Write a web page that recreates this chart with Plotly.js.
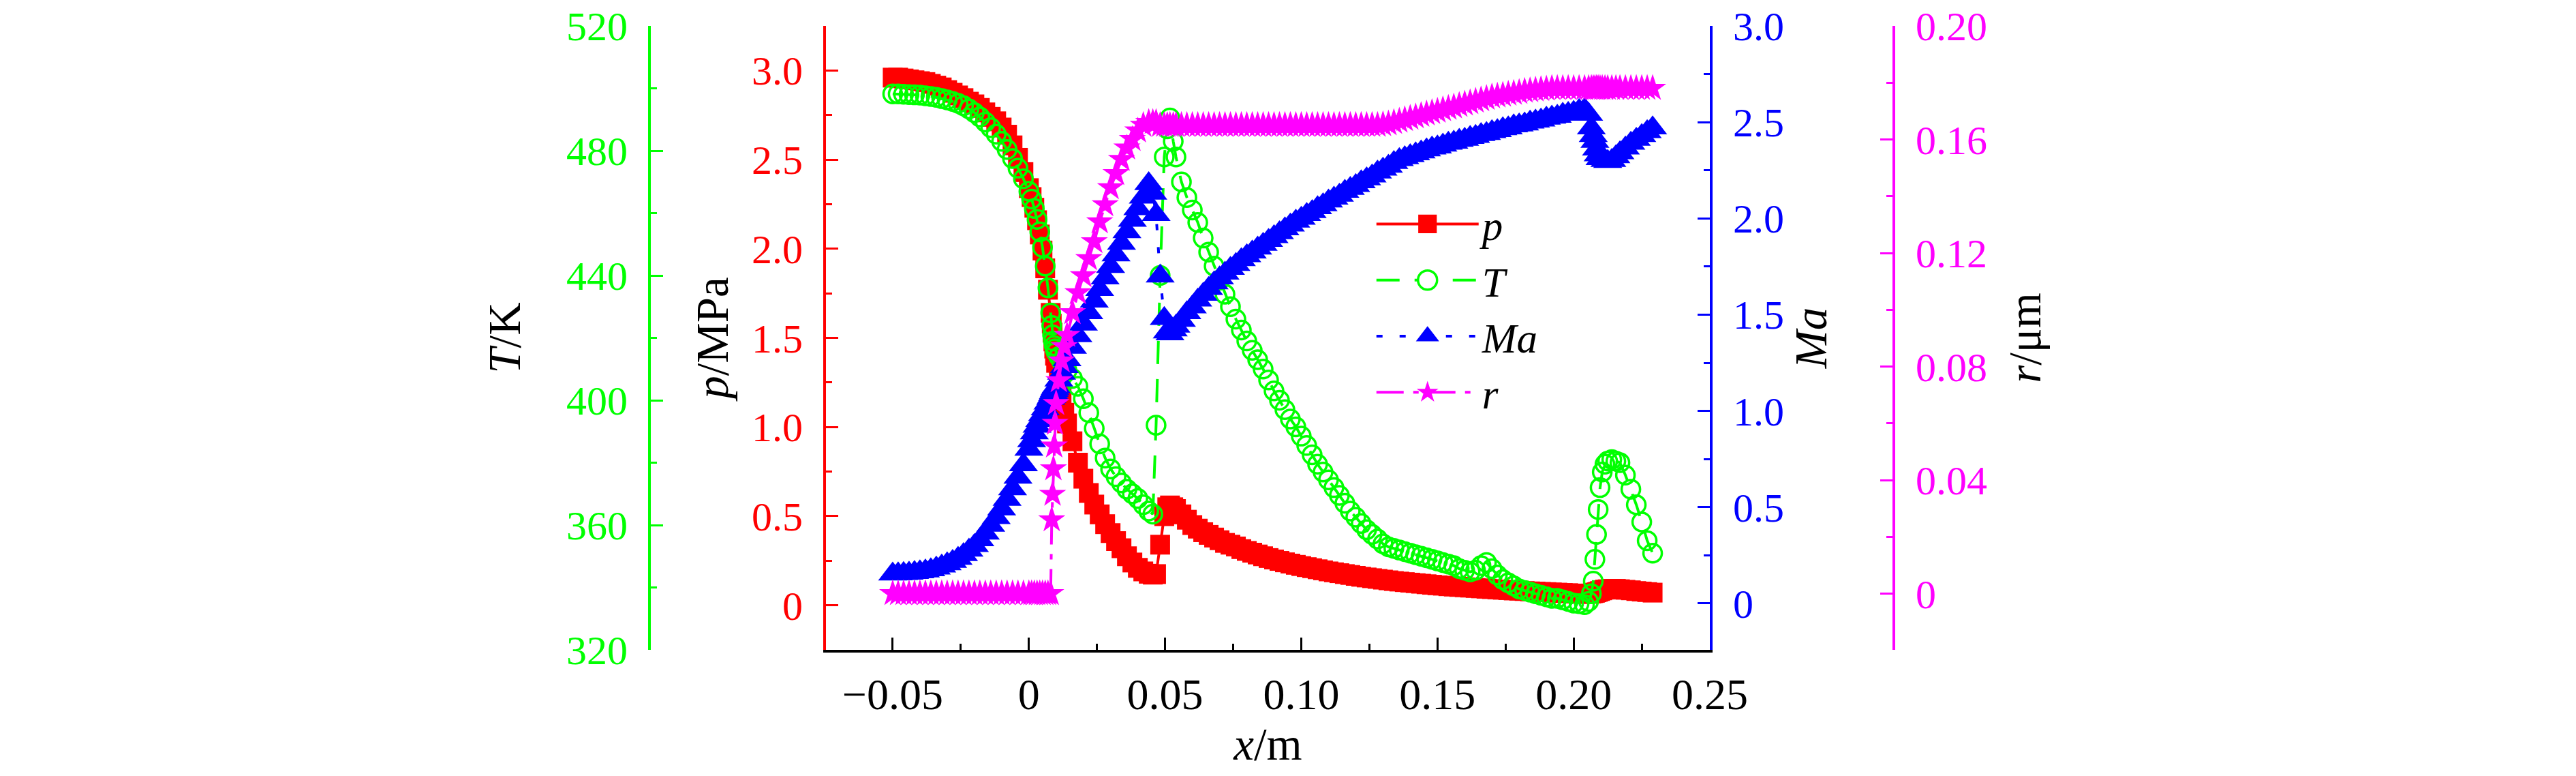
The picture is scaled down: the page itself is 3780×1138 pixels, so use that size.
<!DOCTYPE html>
<html>
<head>
<meta charset="utf-8">
<script src="https://cdn.plot.ly/plotly-3.0.1.min.js"></script>
<style>
  html, body { margin: 0; padding: 0; background: #fff; }
  #chart { width: 3780px; height: 1138px; }
</style>
</head>
<body>
<div id="chart"></div>
<script>
// axial position along the nozzle, m (refined where the curves jump)
const xPos = [
  -0.05, -0.048, -0.046, -0.044, -0.042, -0.04, -0.038, -0.036, -0.034, -0.032,
  -0.03, -0.028, -0.026, -0.024, -0.022, -0.02, -0.018, -0.016, -0.014, -0.012,
  -0.01, -0.008, -0.006, -0.004, -0.002, 0,
  0.001, 0.002, 0.003, 0.004, 0.005, 0.006, 0.007, 0.008,
  0.0084, 0.0087, 0.009, 0.0093, 0.0096, 0.01, 0.011, 0.012, 0.013, 0.014,
  0.016, 0.018, 0.02, 0.022, 0.024, 0.026, 0.028, 0.03, 0.032, 0.034,
  0.036, 0.038, 0.04, 0.042, 0.044,
  0.0455, 0.0467, 0.0482, 0.0497, 0.0508, 0.0518, 0.053,
  0.054, 0.056, 0.058, 0.06, 0.062, 0.064, 0.066, 0.068, 0.07, 0.072,
  0.074, 0.076, 0.078, 0.08, 0.082, 0.084, 0.086, 0.088, 0.09, 0.092,
  0.094, 0.096, 0.098, 0.1, 0.102, 0.104, 0.106, 0.108, 0.11, 0.112,
  0.114, 0.116, 0.118, 0.12, 0.122, 0.124, 0.126, 0.128, 0.13, 0.132,
  0.134, 0.136, 0.138, 0.14, 0.142, 0.144, 0.146, 0.148, 0.15, 0.152,
  0.154, 0.156, 0.158, 0.16, 0.162, 0.164, 0.166, 0.168, 0.17, 0.172,
  0.174, 0.176, 0.178, 0.18, 0.182, 0.184, 0.186, 0.188, 0.19, 0.192,
  0.194, 0.196, 0.198, 0.2,
  0.202, 0.204, 0.2055, 0.2065, 0.2072, 0.2078, 0.2084, 0.209, 0.2097, 0.2105,
  0.2115, 0.2125, 0.214, 0.2155, 0.217, 0.219, 0.221, 0.223, 0.225, 0.227, 0.229
];

// pressure, MPa
const pressure = [
  2.96, 2.96, 2.955, 2.95, 2.945, 2.94, 2.935, 2.925, 2.915, 2.905,
  2.89, 2.875, 2.86, 2.845, 2.825, 2.81, 2.79, 2.765, 2.74, 2.715,
  2.68, 2.64, 2.58, 2.51, 2.43, 2.34,
  2.29, 2.23, 2.16, 2.08, 1.99, 1.89, 1.77, 1.64,
  1.58, 1.53, 1.48, 1.44, 1.40, 1.36, 1.26, 1.16, 1.08, 1.02,
  0.92, 0.80, 0.71, 0.63, 0.565, 0.51, 0.455, 0.405, 0.36, 0.32,
  0.275, 0.24, 0.21, 0.19, 0.177,
  0.172, 0.175, 0.34, 0.50, 0.55, 0.56, 0.55,
  0.54, 0.51, 0.48, 0.45, 0.43, 0.41, 0.395, 0.38, 0.365, 0.35,
  0.34, 0.33, 0.315, 0.305, 0.295, 0.285, 0.275, 0.265, 0.257, 0.249,
  0.241, 0.234, 0.227, 0.22, 0.214, 0.208, 0.202, 0.196, 0.19, 0.185,
  0.18, 0.175, 0.17, 0.165, 0.16, 0.156, 0.152, 0.148, 0.144, 0.14,
  0.136, 0.133, 0.13, 0.127, 0.124, 0.121, 0.118, 0.115, 0.112, 0.11,
  0.107, 0.105, 0.103, 0.101, 0.099, 0.097, 0.095, 0.093, 0.091, 0.089,
  0.087, 0.085, 0.083, 0.082, 0.08, 0.078, 0.077, 0.075, 0.074, 0.072,
  0.071, 0.069, 0.068, 0.066,
  0.065, 0.064, 0.064, 0.066, 0.068, 0.07, 0.073, 0.076, 0.08, 0.084,
  0.088, 0.09, 0.092, 0.092, 0.09, 0.087, 0.084, 0.08, 0.077, 0.074, 0.071
];

// temperature, K
const temperature = [
  498.2, 498.2, 498.1, 498, 497.9, 497.8, 497.6, 497.4, 497.1, 496.7,
  496.3, 495.8, 495.2, 494.4, 493.4, 492.2, 490.8, 489.2, 487.4, 485.3,
  483, 480.4, 477.5, 474.4, 471, 467,
  464.5, 461.5, 458, 454, 449, 443, 436, 428,
  424, 421, 419, 417.5, 416.5, 415.5, 414, 412.5, 411, 409.5,
  407, 404.5, 400.5, 396, 391, 386, 381.5, 378, 375.5, 373.5,
  371.5, 370, 368.5, 366.5, 364.5,
  363.5, 392, 440, 478, 487, 490.5, 483,
  478, 470, 465, 461, 457, 452, 447.5, 443, 438.5, 434,
  430, 426, 422.5, 419, 416, 413, 410, 406.5, 403, 400,
  397, 394, 391.5, 388.5, 385.5, 382.5, 379.5, 377, 374.5, 372,
  369.5, 367, 364.5, 362.5, 360.5, 358.5, 357, 355.5, 354, 353,
  352.5, 352, 351.5, 351, 350.5, 350, 349.5, 349, 348.5, 348,
  347.5, 347, 346, 345.5, 345, 345.5, 347, 348, 346, 344,
  342.5, 341.5, 340.5, 339.5, 339, 338.5, 338, 337.5, 337, 336.5,
  336.5, 336, 335.5, 335,
  334.8, 334.5, 335.5, 338, 342, 349, 357, 365, 372, 377,
  379.5, 380.5, 381, 380.5, 380, 376, 371.5, 366.5, 361, 355, 351
];

// Mach number
const mach = [
  0.152, 0.153, 0.155, 0.157, 0.16, 0.164, 0.168, 0.174, 0.183, 0.194,
  0.205, 0.218, 0.234, 0.253, 0.276, 0.30, 0.33, 0.365, 0.405, 0.445,
  0.49, 0.54, 0.595, 0.655, 0.72, 0.80,
  0.845, 0.885, 0.92, 0.95, 0.98, 1.01, 1.04, 1.065,
  1.075, 1.085, 1.095, 1.105, 1.115, 1.125, 1.16, 1.195, 1.23, 1.265,
  1.33, 1.39, 1.45, 1.51, 1.57, 1.63, 1.69, 1.75, 1.81, 1.87,
  1.93, 1.99, 2.05, 2.11, 2.18,
  2.13, 2.02, 1.70, 1.48, 1.41, 1.40, 1.42,
  1.44, 1.47, 1.51, 1.54, 1.575, 1.605, 1.635, 1.665, 1.69, 1.715,
  1.74, 1.76, 1.785, 1.805, 1.825, 1.845, 1.865, 1.885, 1.905, 1.925,
  1.945, 1.965, 1.985, 2.0, 2.02, 2.035, 2.055, 2.07, 2.09, 2.105,
  2.12, 2.14, 2.155, 2.17, 2.19, 2.205, 2.22, 2.24, 2.255, 2.27,
  2.29, 2.305, 2.315, 2.325, 2.335, 2.345, 2.355, 2.365, 2.37, 2.38,
  2.39, 2.395, 2.405, 2.41, 2.42, 2.425, 2.435, 2.44, 2.45, 2.455,
  2.465, 2.47, 2.48, 2.485, 2.49, 2.5, 2.505, 2.51, 2.52, 2.525,
  2.53, 2.54, 2.545, 2.55,
  2.56, 2.565, 2.54, 2.47, 2.43, 2.40, 2.36, 2.33, 2.31, 2.31,
  2.30, 2.295, 2.30, 2.32, 2.34, 2.365, 2.39, 2.41, 2.43, 2.45, 2.47
];

// droplet radius, um
const radius = [
  0, 0, 0, 0, 0, 0, 0, 0, 0, 0,
  0, 0, 0, 0, 0, 0, 0, 0, 0, 0,
  0, 0, 0, 0, 0, 0,
  0, 0, 0, 0, 0, 0, 0, 0,
  0.026, 0.035, 0.044, 0.052, 0.06, 0.067, 0.075, 0.082, 0.087, 0.091,
  0.099, 0.106, 0.112, 0.118, 0.124, 0.131, 0.137, 0.143, 0.148, 0.153,
  0.157, 0.16, 0.163, 0.165, 0.166,
  0.166, 0.166, 0.165, 0.165, 0.165, 0.165, 0.165,
  0.165, 0.165, 0.165, 0.165, 0.165, 0.165, 0.165, 0.165, 0.165, 0.165,
  0.165, 0.165, 0.165, 0.165, 0.165, 0.165, 0.165, 0.165, 0.165, 0.165,
  0.165, 0.165, 0.165, 0.165, 0.165, 0.165, 0.165, 0.165, 0.165, 0.165,
  0.165, 0.165, 0.165, 0.165, 0.165, 0.165, 0.165, 0.165, 0.1652, 0.1655,
  0.166, 0.1665, 0.167, 0.1675, 0.168, 0.1685, 0.169, 0.1695, 0.17, 0.1705,
  0.171, 0.1715, 0.172, 0.1725, 0.173, 0.1735, 0.174, 0.1745, 0.175, 0.1753,
  0.1756, 0.176, 0.1763, 0.1766, 0.177, 0.1772, 0.1774, 0.1776, 0.1778, 0.178,
  0.178, 0.178, 0.178, 0.178,
  0.178, 0.178, 0.178, 0.178, 0.178, 0.178, 0.178, 0.178, 0.178, 0.178,
  0.178, 0.178, 0.178, 0.178, 0.178, 0.178, 0.178, 0.178, 0.178, 0.178, 0.178
];

// tick labels
const xTickVals = [-0.05, 0, 0.05, 0.1, 0.15, 0.2, 0.25];
const xTickText = ["\u22120.05", "0", "0.05", "0.10", "0.15", "0.20", "0.25"];
const pTickVals = [0, 0.5, 1, 1.5, 2, 2.5, 3];
const pTickText = ["0", "0.5", "1.0", "1.5", "2.0", "2.5", "3.0"];
const tTickVals = [320, 360, 400, 440, 480, 520];
const tTickText = ["320", "360", "400", "440", "480", "520"];
const maTickVals = [0, 0.5, 1, 1.5, 2, 2.5, 3];
const maTickText = ["0", "0.5", "1.0", "1.5", "2.0", "2.5", "3.0"];
const rTickVals = [0, 0.04, 0.08, 0.12, 0.16, 0.2];
const rTickText = ["0", "0.04", "0.08", "0.12", "0.16", "0.20"];

[pressure, temperature, mach, radius].forEach((arr, i) => {
  if (arr.length !== xPos.length) console.error("series " + i + " length " + arr.length + " != " + xPos.length);
});

const RED = "#ff0000";
const GREEN = "#00ff00";
const BLUE = "#0000ff";
const PINK = "#ff00ff";
const SERIF = "Liberation Serif, Times New Roman, serif";

const traces = [
  {
    name: "<i>p</i>", x: xPos, y: pressure, yaxis: "y",
    mode: "lines+markers",
    line: { color: RED, width: 4 },
    marker: { symbol: "square", size: 29, color: RED, line: { width: 0 } },
  },
  {
    name: "<i>T</i>", x: xPos, y: temperature, yaxis: "y2",
    mode: "lines+markers",
    line: { color: GREEN, width: 4, dash: "34px,22px" },
    marker: { symbol: "circle-open", size: 27, color: GREEN, line: { width: 3.5, color: GREEN } },
  },
  {
    name: "<i>Ma</i>", x: xPos, y: mach, yaxis: "y3",
    mode: "lines+markers",
    line: { color: BLUE, width: 4, dash: "9px,25px" },
    marker: { symbol: "triangle-up", size: 37, color: BLUE, line: { width: 0 } },
  },
  {
    name: "<i>r</i>", x: xPos, y: radius, yaxis: "y4",
    mode: "lines+markers",
    line: { color: PINK, width: 4, dash: "40px,14px,8px,14px" },
    marker: { symbol: "star", size: 30, color: PINK, line: { width: 0 } },
  },
];

function yAxisStyle(color, vals, text, range, minorStep) {
  return {
    range: range,
    tickmode: "array", tickvals: vals, ticktext: text,
    ticks: "inside", ticklen: 18, tickwidth: 3, tickcolor: color,
    minor: { ticks: "inside", dtick: minorStep, tick0: 0, ticklen: 9, tickwidth: 3, tickcolor: color },
    showline: true, linecolor: color, linewidth: 4,
    showgrid: false, zeroline: false,
    tickfont: { family: SERIF, size: 60, color: color },
    ticklabelstandoff: 18,
  };
}

const layout = {
  width: 3780, height: 1138,
  margin: { l: 0, r: 0, t: 38, b: 185 },
  paper_bgcolor: "#fff", plot_bgcolor: "#fff",
  showlegend: true,
  legend: {
    x: 0.533, y: 0.733, xanchor: "left", yanchor: "top",
    font: { family: SERIF, size: 61, color: "#000" },
    bgcolor: "rgba(0,0,0,0)", borderwidth: 0,
    itemwidth: 150,
  },
  xaxis: {
    domain: [1212 / 3780, 2509 / 3780],
    range: [-0.0745, 0.25],
    tickmode: "array", tickvals: xTickVals, ticktext: xTickText,
    ticks: "inside", ticklen: 18, tickwidth: 3, tickcolor: "#000",
    minor: { ticks: "inside", dtick: 0.025, tick0: 0, ticklen: 9, tickwidth: 3, tickcolor: "#000" },
    showline: true, linecolor: "#000", linewidth: 4,
    showgrid: false, zeroline: false,
    tickfont: { family: SERIF, size: 64, color: "#000" },
    ticklabelstandoff: 6,
    title: { text: "<i>x</i>/m", font: { family: SERIF, size: 67, color: "#000" }, standoff: 15 },
  },
  yaxis: Object.assign(yAxisStyle(RED, pTickVals, pTickText, [-0.25, 3.25], 0.25), {
    anchor: "x", side: "left",
    title: { text: "<i>p</i>/MPa", font: { family: SERIF, size: 67, color: "#000" }, standoff: 14 },
  }),
  yaxis2: Object.assign(yAxisStyle(GREEN, tTickVals, tTickText, [320, 520], 20), {
    overlaying: "y", anchor: "free", position: 953 / 3780, side: "left",
    title: { text: "<i>T</i>/K", font: { family: SERIF, size: 67, color: "#000" }, standoff: 45 },
  }),
  yaxis3: Object.assign(yAxisStyle(BLUE, maTickVals, maTickText, [-0.241, 3.0], 0.25), {
    overlaying: "y", anchor: "x", side: "right",
    title: { text: "<i>Ma</i>", font: { family: SERIF, size: 67, color: "#000" }, standoff: 17 },
  }),
  yaxis4: Object.assign(yAxisStyle(PINK, rTickVals, rTickText, [-0.0198, 0.2], 0.02), {
    overlaying: "y", anchor: "free", position: 2779 / 3780, side: "right",
    title: { text: "<i>r</i>/\u03bcm", font: { family: SERIF, size: 67, color: "#000" }, standoff: 31 },
  }),
};

// legend symbols are capped at 16px by plotly, so grow them to match the plot markers
function enlargeLegendSymbols(gd) {
  const scales = [1.7, 1.75, 1.85, 1.5];
  gd.querySelectorAll(".legend .traces").forEach((item, i) => {
    item.querySelectorAll(".legendpoints path.scatterpts").forEach((pt) => {
      const t = pt.getAttribute("transform") || "";
      pt.setAttribute("transform", t + " scale(" + (scales[i] || 1.7) + ")");
      pt.style.vectorEffect = "non-scaling-stroke";
      // the open circle hides the line behind it, as in the original key
      if (i === 1) pt.style.fill = "#fff";
    });
  });
}

Plotly.newPlot("chart", traces, layout, { displayModeBar: false, responsive: false })
  .then(enlargeLegendSymbols);
</script>
</body>
</html>
